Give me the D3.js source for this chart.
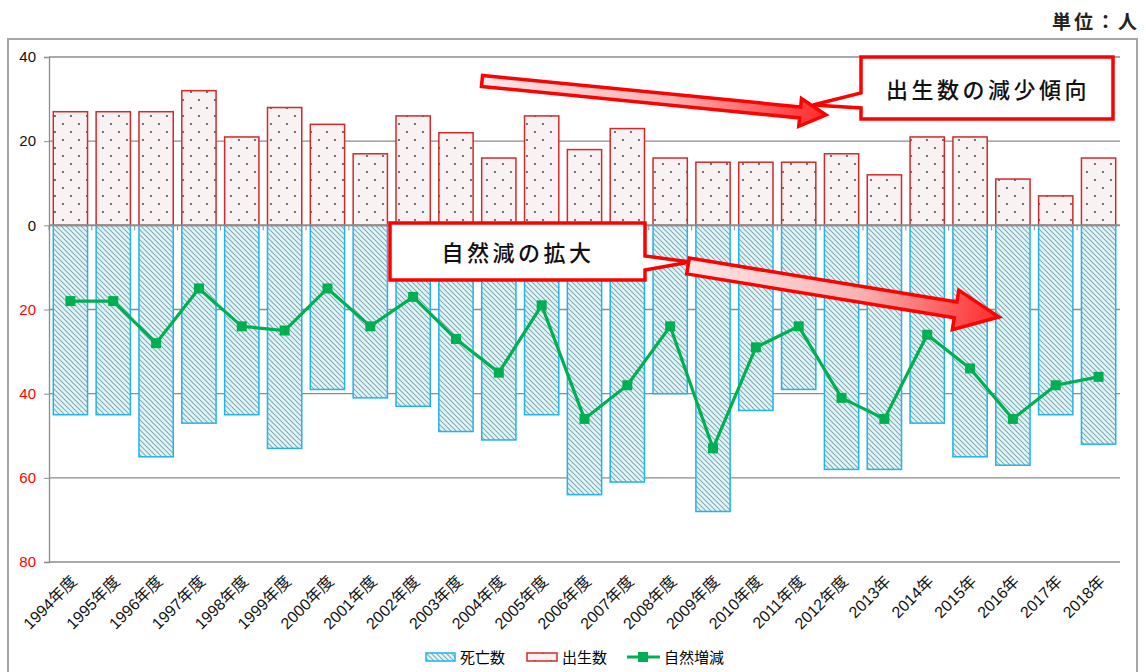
<!DOCTYPE html>
<html>
<head>
<meta charset="utf-8">
<script src="https://cdn.jsdelivr.net/npm/d3@7"></script>
<style>
  body { margin: 0; background: #fff; }
  text { font-family: "Liberation Sans", "Noto Sans CJK JP", sans-serif; }
</style>
</head>
<body>
<svg id="chart" width="1146" height="672"></svg>
<script>
// data
const years = ["1994年度","1995年度","1996年度","1997年度","1998年度","1999年度","2000年度","2001年度","2002年度","2003年度","2004年度","2005年度","2006年度","2007年度","2008年度","2009年度","2010年度","2011年度","2012年度","2013年","2014年","2015年","2016年","2017年","2018年"];
const births = [27,27,27,32,21,28,24,17,26,22,16,26,18,23,16,15,15,15,17,12,21,21,11,7,16];
const deaths = [45,45,55,47,45,53,39,41,43,49,51,45,64,61,40,68,44,39,58,58,47,55,57,45,52];
const natural = [-18,-18,-28,-15,-24,-25,-15,-24,-17,-27,-35,-19,-46,-38,-24,-53,-29,-24,-41,-46,-26,-34,-46,-38,-36];
const yTicks = [40,20,0,-20,-40,-60,-80];

const svg = d3.select("#chart");
const defs = svg.append("defs");

// hatch for deaths
const hatch = defs.append("pattern").attr("id","hatch")
  .attr("patternUnits","userSpaceOnUse").attr("width",5).attr("height",5);
hatch.append("rect").attr("width",5).attr("height",5).attr("fill","#e2f7fb");
hatch.append("path").attr("d","M-1,-1L6,6M-1,4L1,6M4,-1L6,1")
  .attr("stroke","#86a9b2").attr("stroke-width",1.1);

// dots for births
const dots = defs.append("pattern").attr("id","dots")
  .attr("patternUnits","userSpaceOnUse").attr("width",16).attr("height",16)
  .attr("x",3).attr("y",0);
dots.append("rect").attr("width",16).attr("height",16).attr("fill","#f9f2f2");
dots.append("circle").attr("cx",4).attr("cy",4).attr("r",1.1).attr("fill","#555");
dots.append("circle").attr("cx",12).attr("cy",12).attr("r",1.1).attr("fill","#555");

// outer frame
svg.append("rect").attr("x",8).attr("y",39).attr("width",1129).attr("height",650)
  .attr("fill","none").attr("stroke","#a6a6a6").attr("stroke-width",2);

svg.append("text").attr("x",1140).attr("y",29).attr("text-anchor","end")
  .attr("font-size",19).attr("font-weight","bold").attr("letter-spacing",3).attr("fill","#222")
  .style("font-family","'Noto Sans CJK JP'").text("単位：人");

const x = d3.scaleBand().domain(years).range([49,1120]).paddingInner(0.2).paddingOuter(0.1);
const y = d3.scaleLinear().domain([-80,40]).range([562,57]);

// gridlines
svg.append("g").selectAll("line").data(yTicks.filter(d => d !== 0)).join("line")
  .attr("x1",49).attr("x2",1120).attr("y1",d => y(d)).attr("y2",d => y(d))
  .attr("stroke","#8c8c8c").attr("stroke-width",1.3);

// y axis
const yAxis = svg.append("g").attr("transform","translate(49,0)")
  .call(d3.axisLeft(y).tickValues(yTicks).tickSize(5).tickFormat(d => Math.abs(d)));
yAxis.select(".domain").attr("stroke","#8c8c8c").attr("stroke-width",1.3);
yAxis.selectAll(".tick line").attr("stroke","#8c8c8c");
yAxis.selectAll(".tick text").attr("x",-13).attr("font-size",15)
  .style("font-family","'Liberation Sans'")
  .attr("fill",d => d < 0 ? "#ff0000" : "#111");

// bars
svg.append("g").selectAll("rect").data(years).join("rect")
  .attr("x",d => x(d)).attr("width",x.bandwidth())
  .attr("y",y(0)).attr("height",(d,i) => y(-deaths[i]) - y(0))
  .attr("fill","url(#hatch)").attr("stroke","#1fb4ea").attr("stroke-width",1.5);
svg.append("g").selectAll("rect").data(years).join("rect")
  .attr("x",d => x(d)).attr("width",x.bandwidth())
  .attr("y",(d,i) => y(births[i])).attr("height",(d,i) => y(0) - y(births[i]))
  .attr("fill","url(#dots)").attr("stroke","#d22a2a").attr("stroke-width",1.5);

// zero line + category ticks
svg.append("line").attr("x1",49).attr("x2",1120).attr("y1",y(0)).attr("y2",y(0))
  .attr("stroke","#8c8c8c").attr("stroke-width",2);
svg.append("g").selectAll("line").data(years).join("line")
  .attr("x1",d => x(d) - x.step()*0.1).attr("x2",d => x(d) - x.step()*0.1)
  .attr("y1",y(0)).attr("y2",y(0)+5).attr("stroke","#8c8c8c");

// x labels
svg.append("g").selectAll("text").data(years).join("text")
  .attr("transform",d => `translate(${x(d)+x.bandwidth()/2-1},574) rotate(-45)`)
  .attr("text-anchor","end").attr("dy","0.75em").attr("font-size",16).attr("fill","#111")
  .text(d => d);

// natural change line
const cx = d => x(d) + x.bandwidth()/2;
svg.append("path").datum(years)
  .attr("d",d3.line().x(cx).y((d,i) => y(natural[i])))
  .attr("fill","none").attr("stroke","#00b050").attr("stroke-width",3.2);
svg.append("g").selectAll("rect").data(years).join("rect")
  .attr("x",d => cx(d) - 5).attr("y",(d,i) => y(natural[i]) - 5)
  .attr("width",10).attr("height",10).attr("fill","#00b050");

// arrows
function arrowPath(t, p, w, h, L) {
  const dx = p[0]-t[0], dy = p[1]-t[1], len = Math.hypot(dx,dy);
  const u = [dx/len, dy/len], n = [-u[1], u[0]];
  const b = [p[0]-u[0]*L, p[1]-u[1]*L];
  const pt = (o, k) => [o[0]+n[0]*k, o[1]+n[1]*k];
  const pts = [pt(t,w), pt(b,w), pt(b,h), p, pt(b,-h), pt(b,-w), pt(t,-w)];
  return "M" + pts.map(q => q.join(",")).join("L") + "Z";
}
function arrow(id, t, p, w, h, L) {
  const g = defs.append("linearGradient").attr("id",id).attr("gradientUnits","userSpaceOnUse")
    .attr("x1",t[0]).attr("y1",t[1]).attr("x2",p[0]).attr("y2",p[1]);
  g.append("stop").attr("offset","0").attr("stop-color","#ffe6e6");
  g.append("stop").attr("offset","0.55").attr("stop-color","#f7b3b3");
  g.append("stop").attr("offset","1").attr("stop-color","#ff2a2a");
  svg.append("path").attr("d",arrowPath(t,p,w,h,L))
    .attr("fill",`url(#${id})`).attr("stroke","#ff0000").attr("stroke-width",3.5)
    .attr("stroke-linejoin","miter");
}

// callouts
function callout(d, tx, ty, label, ls) {
  svg.append("path").attr("d",d).attr("fill","#fff")
    .attr("stroke","#ff0000").attr("stroke-width",3.5).attr("stroke-linejoin","miter");
  svg.append("text").attr("x",tx).attr("y",ty).attr("text-anchor","middle")
    .attr("font-size",22).attr("font-weight",500).attr("letter-spacing",ls).attr("fill","#111")
    .style("font-family","'Noto Sans CJK JP'").text(label);
}

arrow("g1",[482,81],[826,115],5.5,14,26);
callout("M861,57H1113V119H861V108L813,105L861,93Z",988,98,"出生数の減少傾向",3.5);
callout("M390,223H645V256L690,262L645,270V280H390Z",518,261,"自然減の拡大",3.5);
arrow("g2",[688,266],[999,317],8,20,44);

// legend
const lg = svg.append("g").attr("transform","translate(0,657)");
lg.append("rect").attr("x",426).attr("y",-4).attr("width",29).attr("height",8)
  .attr("fill","url(#hatch)").attr("stroke","#1fb4ea").attr("stroke-width",1.5);
lg.append("text").attr("x",460).attr("y",6).attr("font-size",15).text("死亡数");
lg.append("rect").attr("x",527).attr("y",-4).attr("width",30).attr("height",8)
  .attr("fill","url(#dots)").attr("stroke","#d22a2a").attr("stroke-width",1.5);
lg.append("text").attr("x",562).attr("y",6).attr("font-size",15).text("出生数");
lg.append("line").attr("x1",627).attr("x2",660).attr("y1",0).attr("y2",0)
  .attr("stroke","#00b050").attr("stroke-width",3);
lg.append("rect").attr("x",638).attr("y",-5).attr("width",10).attr("height",10).attr("fill","#00b050");
lg.append("text").attr("x",664).attr("y",6).attr("font-size",15).text("自然増減");
</script>
</body>
</html>
